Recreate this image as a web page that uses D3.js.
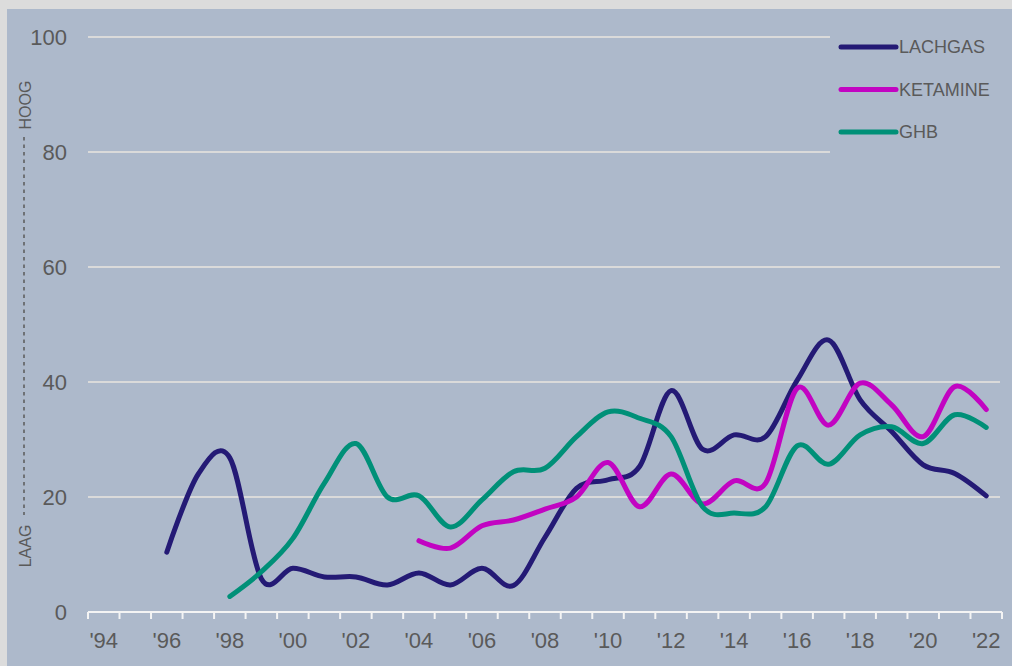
<!DOCTYPE html>
<html>
<head>
<meta charset="utf-8">
<script src="https://cdn.jsdelivr.net/npm/d3@7"></script>
<style>
  body { margin: 0; background: #dcdcdc; }
  svg { display: block; font-family: "Liberation Sans", Arial, sans-serif; }
</style>
</head>
<body>
<div id="chart"></div>
<script>
// years on the x axis (one band per year)
const years = [1994, 1995, 1996, 1997, 1998, 1999, 2000, 2001, 2002, 2003, 2004, 2005, 2006, 2007,
  2008, 2009, 2010, 2011, 2012, 2013, 2014, 2015, 2016, 2017, 2018, 2019, 2020, 2021, 2022];

// labels shown under every other year
const yearLabels = ["'94", "'96", "'98", "'00", "'02", "'04", "'06", "'08", "'10", "'12", "'14",
  "'16", "'18", "'20", "'22"];

const yTicks = [0, 20, 40, 60, 80, 100];

// series, null = no measurement that year
const lachgas = [null, null, 10.4, 24, 26.8, 5.8, 7.6, 6.1, 6.1, 4.7, 6.8, 4.7, 7.6, 4.6, 13,
  21.5, 23, 25.3, 38.5, 28.3, 30.8, 30.5, 40.3, 47.3, 36.9, 31.4, 25.6, 24.1, 20.2];
const ketamine = [null, null, null, null, null, null, null, null, null, null, 12.4, 11.1, 15, 16,
  17.9, 20, 26, 18.3, 24, 18.8, 22.8, 22.4, 38.9, 32.5, 39.8, 36, 30.5, 39.2, 35.2];
const ghb = [null, null, null, null, 2.7, 7, 12.8, 22.4, 29.3, 20, 20.2, 14.8, 19.5, 24.4, 25,
  30.5, 34.8, 33.7, 30.5, 18.3, 17.2, 18.3, 28.9, 25.7, 30.8, 32.2, 29.3, 34.3, 32.1];

const seriesNames = ["LACHGAS", "KETAMINE", "GHB"];
const seriesColors = ["#241a75", "#c204c2", "#009078"];

const width = 1012;
const height = 666;
const bg = "#adb9cb";

const svg = d3.select("#chart").append("svg")
  .attr("width", width)
  .attr("height", height);

// light frame round the chart
svg.append("rect")
  .attr("width", width).attr("height", height)
  .attr("fill", "#dcdcdc");
svg.append("rect")
  .attr("x", 7).attr("y", 9)
  .attr("width", width - 7).attr("height", height - 9)
  .attr("fill", bg);

const x = d3.scaleBand()
  .domain(years)
  .range([88, 1002]);

const y = d3.scaleLinear()
  .domain([0, 100])
  .range([612, 37]);

const xc = yr => x(yr) + x.bandwidth() / 2;

// gridlines
svg.append("g")
  .selectAll("line")
  .data(yTicks.filter(d => d > 0))
  .enter()
  .append("line")
  .attr("x1", 88)
  .attr("x2", 1000)
  .attr("y1", d => y(d))
  .attr("y2", d => y(d))
  .attr("stroke", "#dadada")
  .attr("stroke-width", 2);

// y labels
svg.append("g")
  .selectAll("text")
  .data(yTicks)
  .enter()
  .append("text")
  .attr("x", 67)
  .attr("y", d => y(d))
  .attr("dy", "0.36em")
  .attr("text-anchor", "end")
  .attr("font-size", 22)
  .attr("fill", "#5a5a5a")
  .text(d => d);

// x axis line and tick marks at year boundaries
const axis = svg.append("g");
axis.append("line")
  .attr("x1", 88).attr("x2", 1002)
  .attr("y1", y(0)).attr("y2", y(0))
  .attr("stroke", "#f4f4f4")
  .attr("stroke-width", 2);
axis.selectAll(".tick")
  .data(years.concat(["end"]))
  .enter()
  .append("line")
  .attr("class", "tick")
  .attr("x1", d => d === "end" ? x.range()[1] : x(d))
  .attr("x2", d => d === "end" ? x.range()[1] : x(d))
  .attr("y1", y(0))
  .attr("y2", y(0) + 7)
  .attr("stroke", "#f4f4f4")
  .attr("stroke-width", 2);

axis.selectAll(".xlabel")
  .data(yearLabels)
  .enter()
  .append("text")
  .attr("class", "xlabel")
  .attr("x", (d, i) => xc(years[i * 2]))
  .attr("y", 648)
  .attr("text-anchor", "middle")
  .attr("font-size", 22)
  .attr("fill", "#5a5a5a")
  .text(d => d);

// LAAG / HOOG side marker
svg.append("line")
  .attr("x1", 24).attr("x2", 24)
  .attr("y1", 137).attr("y2", 515)
  .attr("stroke", "#5a5a5a")
  .attr("stroke-width", 1.5)
  .attr("stroke-dasharray", "3.5,4");
svg.append("text")
  .attr("transform", "translate(31,105) rotate(-90)")
  .attr("text-anchor", "middle")
  .attr("font-size", 16)
  .attr("fill", "#5a5a5a")
  .text("HOOG");
svg.append("text")
  .attr("transform", "translate(31,546) rotate(-90)")
  .attr("text-anchor", "middle")
  .attr("font-size", 16)
  .attr("fill", "#5a5a5a")
  .text("LAAG");

// lines
const line = d3.line()
  .defined(d => d.v !== null)
  .x(d => xc(d.year))
  .y(d => y(d.v))
  .curve(d3.curveCardinal.tension(0));

const allSeries = [lachgas, ketamine, ghb];
allSeries.forEach((vals, i) => {
  const pts = years.map((yr, j) => ({ year: yr, v: vals[j] }));
  svg.append("path")
    .datum(pts)
    .attr("d", line)
    .attr("fill", "none")
    .attr("stroke", seriesColors[i])
    .attr("stroke-width", 5)
    .attr("stroke-linecap", "round")
    .attr("stroke-linejoin", "round");
});

// legend, its box hides the gridlines behind it
const legend = svg.append("g");
legend.append("rect")
  .attr("x", 830).attr("y", 22)
  .attr("width", 175).attr("height", 138)
  .attr("fill", bg);
seriesNames.forEach((name, i) => {
  const ly = 47 + i * 42.5;
  legend.append("line")
    .attr("x1", 841).attr("x2", 896)
    .attr("y1", ly).attr("y2", ly)
    .attr("stroke", seriesColors[i])
    .attr("stroke-width", 5)
    .attr("stroke-linecap", "round");
  legend.append("text")
    .attr("x", 899)
    .attr("y", ly)
    .attr("dy", "0.36em")
    .attr("font-size", 18)
    .attr("fill", "#5a5a5a")
    .text(name);
});
</script>
</body>
</html>
